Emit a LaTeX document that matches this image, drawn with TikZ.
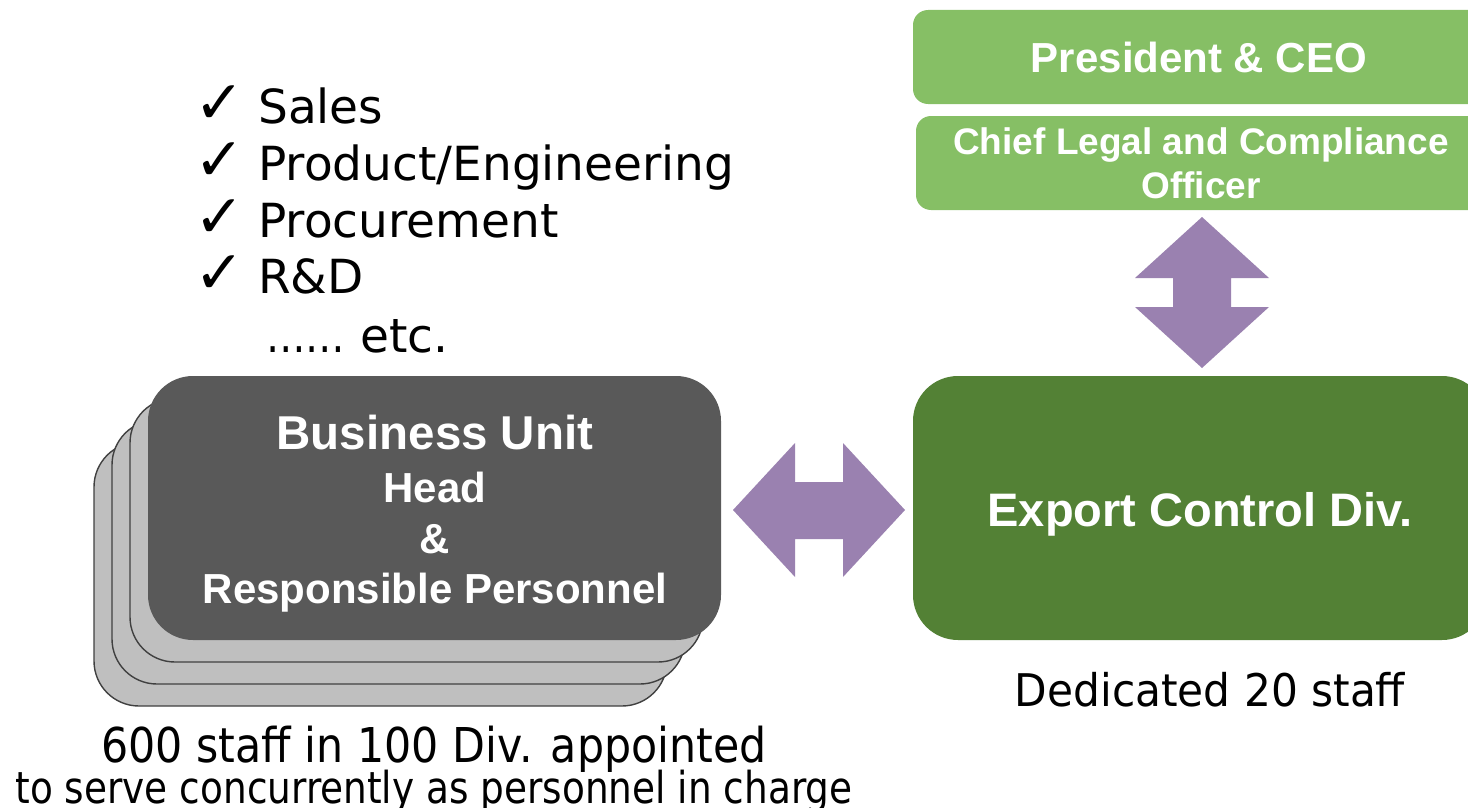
\documentclass[tikz,border=0pt]{standalone}
\usepackage{fontspec}
\setmainfont{DejaVu Sans}
\newfontfamily\verd{DejaVu Sans}
\newfontfamily\verdc[FakeStretch=0.89]{DejaVu Sans}
\newfontfamily\verdd[FakeStretch=0.85]{DejaVu Sans}
\newfontfamily\verde[FakeStretch=0.94]{DejaVu Sans}
\newfontfamily\arialf{Liberation Sans}
\definecolor{lgreen}{RGB}{134,191,101}
\definecolor{dgreen}{RGB}{83,129,53}
\definecolor{purp}{RGB}{154,129,176}
\definecolor{dgray}{RGB}{89,89,89}
\definecolor{lgray}{RGB}{191,191,191}
\definecolor{edgec}{RGB}{64,64,64}
\begin{document}
\begin{tikzpicture}[x=1pt,y=-1pt,
  smallbox/.style={rectangle, rounded corners=15pt, fill=lgreen, inner sep=0pt, minimum width=#1, minimum height=94pt},
  bigbox/.style={rectangle, rounded corners=45pt, inner sep=0pt, minimum width=573pt, minimum height=264pt},
  backbox/.style={bigbox, fill=lgray, draw=edgec, line width=1.4pt},
  wtext/.style={inner sep=0pt, anchor=base, text=white, font=\arialf\bfseries\fontsize{#1}{#1}\selectfont},
  btext/.style={inner sep=0pt, text=black},
  dblarrow/.style={fill=purp, draw=none}]
\useasboundingbox (0,0) rectangle (1468,808);
\clip (0,0) rectangle (1468,808);

% right column
\node[smallbox=572pt] (ceo) at (1199,57) {};
\node[smallbox=570pt] (clo) at (1201,163) {};
\node[bigbox, fill=dgreen, minimum width=574pt] (ecd) at (1200,508) {};

\node[wtext=42] (ceot) at (1199,73) {President \& CEO};
\node[wtext=37] (clot1) at (1201,154) {Chief Legal and Compliance};
\node[wtext=37] (clot2) at (1201,198) {Officer};
\node[wtext=47] (ecdt) at (1200,526) {Export Control Div.};

% stacked business units
\node[backbox] (bu4) at (380.5,574) {};
\node[backbox] (bu3) at (398.5,552) {};
\node[backbox] (bu2) at (416.5,530) {};
\node[bigbox, fill=dgray] (bu) at (434.5,508) {};

\node[wtext=47.5] (but1) at (435,449) {Business Unit};
\node[wtext=42] (but2) at (435,502) {Head};
\node[wtext=42] (but3) at (435,553) {\&};
\node[wtext=42] (but4) at (435,603) {Responsible Personnel};

% double arrows
\coordinate (hA) at (733,510);
\coordinate (hB) at (905,510);
\fill[dblarrow] (hA) -- (795,443) -- (795,482) -- (843,482) -- (843,443) -- (hB)
  -- (843,577) -- (843,539) -- (795,539) -- (795,577) -- cycle;
\coordinate (vA) at (1202,217);
\coordinate (vB) at (1202,368);
\fill[dblarrow] (vA) -- (1269,278) -- (1231,278) -- (1231,307) -- (1269,307) -- (vB)
  -- (1135,307) -- (1173,307) -- (1173,278) -- (1135,278) -- cycle;

% checklist
\begin{scope}[every node/.style={btext, anchor=base west, font=\verd\fontsize{47}{47}\selectfont}]
\node (c1) at (194,123) {\fontsize{60}{60}\selectfont ✓};
\node (c2) at (194,180) {\fontsize{60}{60}\selectfont ✓};
\node (c3) at (194,237) {\fontsize{60}{60}\selectfont ✓};
\node (c4) at (194,293) {\fontsize{60}{60}\selectfont ✓};
\node (l1) at (258,123) {Sales};
\node (l2) at (258,180) {Product/Engineering};
\node (l3) at (258,237) {Procurement};
\node (l4) at (258,293) {R\&D};
\node (l5) at (266,352) {\scalebox{0.84}[1]{……} etc.};
\end{scope}

% captions
\node[btext, anchor=base, font=\verde\fontsize{45}{45}\selectfont] (ded) at (1210,706) {Dedicated 20 staff};
\node[btext, anchor=base, font=\verdc\fontsize{48}{48}\selectfont] (cap1) at (434,762) {600 staff in 100 Div. appointed};
\node[btext, anchor=base, font=\verdd\fontsize{44}{44}\selectfont] (cap2) at (434,803) {to serve concurrently as personnel in charge};
\end{tikzpicture}
\end{document}
